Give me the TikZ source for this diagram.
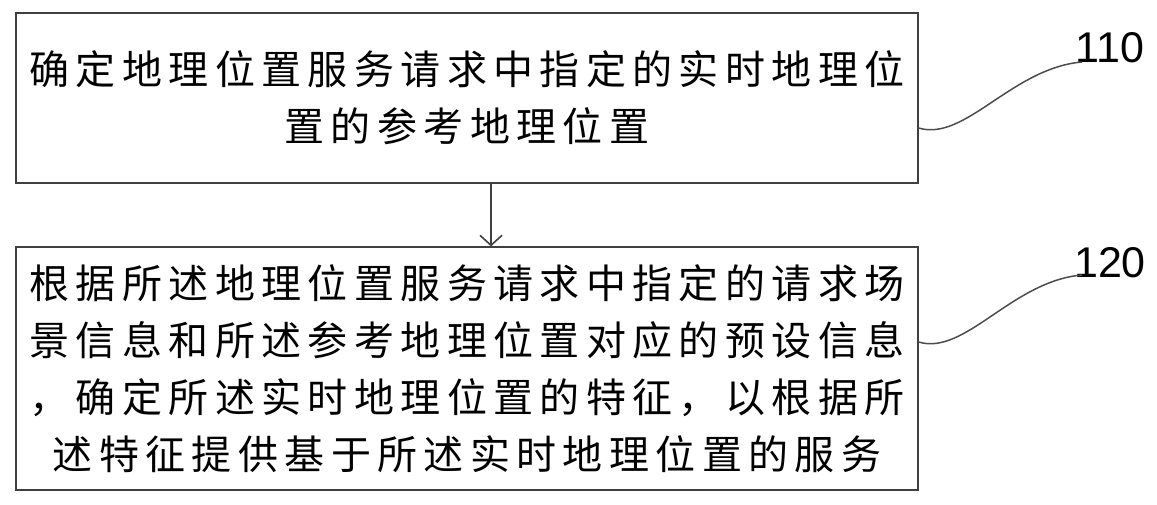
\documentclass[tikz,border=0pt]{standalone}
\usepackage{fontspec}
\setmainfont{Liberation Sans}
\newfontfamily\cjk[LetterSpace=16]{Noto Sans CJK SC}
\usetikzlibrary{arrows.meta}
\begin{document}
\begin{tikzpicture}[x=1pt,y=-1pt,
  stepbox/.style={draw=black!75,line width=1.2pt,rectangle,minimum width=902pt,inner sep=0pt,
    align=center,font=\cjk\fontsize{40}{57}\selectfont},
  leader/.style={draw=black!70,line width=1.5pt},
  flow/.style={draw=black!75,line width=1.2pt,-{Straight Barb[length=10pt,width=22pt,line width=1.6pt]}},
  lbl/.style={font=\fontsize{43}{43}\selectfont,anchor=base,inner sep=0pt}]
\useasboundingbox (0,0) rectangle (1157,505);
\node[stepbox,minimum height=170pt] (b1) at (467,98)
  {确定地理位置服务请求中指定的实时地理位\\置的参考地理位置};
\node[stepbox,minimum height=243pt] (b2) at (467,368.5)
  {根据所述地理位置服务请求中指定的请求场\\景信息和所述参考地理位置对应的预设信息\\，确定所述实时地理位置的特征，以根据所\\述特征提供基于所述实时地理位置的服务};
\draw[flow] (b1.south -| 491,0) -- (b2.north -| 491,0);
\node[lbl] (l110) at (1110,63) {110};
\node[lbl] (l120) at (1110,277) {120};
\coordinate (e1) at (1082,62);
\coordinate (e2) at (1082,275);
\draw[leader] (b1.east |- 0,128) .. controls (965,142) and (1012,68) .. (e1);
\draw[leader] (b2.east |- 0,342) .. controls (965,356) and (1012,281) .. (e2);
\end{tikzpicture}
\end{document}
